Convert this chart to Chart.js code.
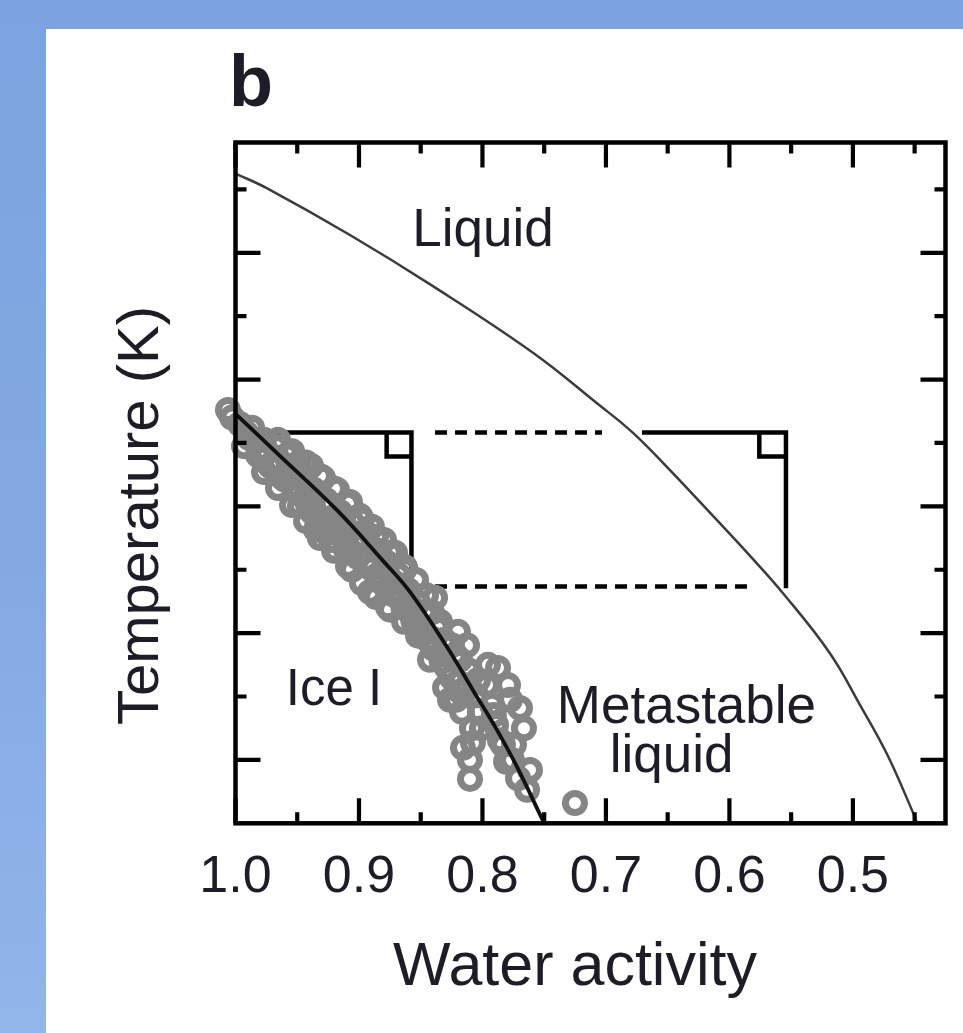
<!DOCTYPE html>
<html>
<head>
<meta charset="utf-8">
<script src="https://cdn.jsdelivr.net/npm/chart.js@4.4.0/dist/chart.umd.min.js"></script>
<style>
  html, body { margin: 0; padding: 0; width: 963px; height: 1033px; overflow: hidden; }
  body { position: relative; background: linear-gradient(to bottom, #7ca3df 0%, #84a9e2 55%, #92b5ea 100%); }
  #panel { position: absolute; left: 46px; top: 29px; right: 0; bottom: 0; background: #fff; }
  #chart { position: absolute; left: 0; top: 0; }
</style>
</head>
<body>
<div id="panel"></div>
<canvas id="chart" width="963" height="1033"></canvas>
<script>
// axis ticks
const xTicks = [1.0, 0.9, 0.8, 0.7, 0.6, 0.5];
const xMinorTicks = [0.95, 0.85, 0.75, 0.65, 0.55, 0.45];
const yMajorTicks = [180, 200, 220, 240, 260];
const yMinorTicks = [190, 210, 230, 250, 270];

// ice melting curve (upper thin line)
const meltAw = [1.0, 0.9747, 0.9073, 0.8398, 0.7588, 0.7075, 0.6781, 0.6505, 0.6133, 0.5833, 0.5566, 0.5185, 0.4943, 0.4726, 0.4511, 0.4481];
const meltT = [272.5, 270.2, 262.8, 254.7, 244.2, 236.3, 231.6, 226.2, 218.5, 212.2, 206.3, 196.8, 188.7, 181.0, 171.6, 170.05];

// homogeneous freezing curve (thick black line)
const freezeAw = [1.0, 0.9664, 0.9178, 0.8805, 0.8587, 0.8287, 0.8077, 0.7882, 0.7720, 0.7510];
const freezeT = [234.6, 228.4, 219.4, 211.4, 206.5, 197.8, 191.0, 184.7, 178.9, 170.4];

// measured freezing points (grey circles)
const dropAw = [1.0061, 1.0028, 0.9964, 0.9915, 0.9931, 0.9866, 0.9842, 0.9818, 0.9769, 0.9745,
  0.9721, 0.9672, 0.9648, 0.9623, 0.9583, 0.9551, 0.9526, 0.9486, 0.9461, 0.9437,
  0.9478, 0.9389, 0.9364, 0.9380, 0.9332, 0.9348, 0.9291, 0.9267, 0.9251, 0.9227,
  0.9178, 0.9154, 0.9129, 0.9194, 0.9105, 0.9073, 0.9057, 0.9024, 0.9057, 0.8992,
  0.8959, 0.8935, 0.8895, 0.8862, 0.8911, 0.8846, 0.8797, 0.8773, 0.8749, 0.8765,
  0.8708, 0.8684, 0.8660, 0.8627, 0.8603, 0.8587, 0.8538, 0.8522, 0.8506, 0.8465,
  0.8441, 0.8425, 0.8457, 0.8384, 0.8368, 0.8344, 0.8311, 0.8287, 0.8303, 0.8263,
  0.8198, 0.8222, 0.8198, 0.8166, 0.8125, 0.8117, 0.8085, 0.8077, 0.8101, 0.8101,
  0.8052, 0.8020, 0.7955, 0.7963, 0.7874, 0.7923, 0.7890, 0.7793, 0.7834, 0.7777,
  0.7696, 0.7664, 0.7761, 0.7615, 0.7712, 0.7639, 0.7251,
  0.9890, 0.9800, 0.9700, 0.9600, 0.9500, 0.9410, 0.9310, 0.9210, 0.9110, 0.9010,
  0.8900, 0.8810, 0.8720, 0.8640, 0.8560, 0.8480, 0.8400, 0.8330, 0.8250, 0.8180,
  0.9656, 0.9542, 0.9429, 0.9316, 0.9202, 0.9089, 0.8976, 0.8862, 0.8749, 0.8635,
  0.9769, 0.9656, 0.9542, 0.9429, 0.9316, 0.9202, 0.9089, 0.8976, 0.8862, 0.8749, 0.8635, 0.8522,
  0.9599, 0.9486, 0.9372, 0.9259, 0.9146, 0.9032, 0.8919, 0.8805, 0.8692,
  0.8409, 0.8344, 0.8247, 0.8182, 0.8214, 0.8133, 0.8036, 0.8004, 0.7907, 0.7858, 0.7809, 0.7745, 0.8158];
const dropT = [235.2, 234.0, 233.0, 231.6, 229.5, 232.4, 230.2, 228.1, 230.5, 228.6,
  226.4, 229.4, 227.2, 224.6, 228.1, 225.8, 222.9, 226.9, 224.2, 221.3,
  220.1, 226.4, 222.6, 219.1, 217.1, 216.3, 224.5, 221.0, 217.9, 214.7,
  222.6, 219.1, 215.5, 213.1, 213.1, 220.7, 217.5, 213.9, 210.0, 218.5,
  215.0, 211.5, 216.8, 213.1, 206.5, 209.2, 214.7, 211.1, 207.6, 204.1,
  212.7, 209.2, 205.2, 210.4, 206.8, 203.3, 208.4, 204.8, 200.8, 202.9,
  198.9, 195.8, 206.0, 205.6, 200.8, 196.6, 198.9, 194.5, 191.4, 189.5,
  200.2, 196.6, 192.3, 187.6, 198.1, 194.2, 185.0, 182.7, 180.0, 177.0,
  190.2, 187.6, 195.0, 191.8, 194.5, 188.7, 185.5, 191.8, 182.4, 189.5,
  188.2, 185.0, 180.0, 178.4, 177.1, 175.3, 173.2,
  230.8, 228.9, 226.8, 224.9, 222.4, 220.0, 218.2, 216.0, 214.4, 212.0,
  210.2, 207.9, 206.1, 204.0, 201.9, 199.8, 197.6, 195.5, 193.0, 190.8,
  230.5, 228.7, 226.9, 224.8, 222.8, 220.4, 217.9, 215.2, 212.7, 210.0,
  225.4, 222.9, 220.2, 217.7, 215.0, 213.0, 210.6, 207.9, 205.7, 203.7, 201.8, 199.6,
  224.2, 222.0, 220.1, 217.9, 216.6, 214.1, 211.5, 208.4, 205.9,
  203.3, 201.8, 198.1, 195.8, 189.5, 191.0, 192.6, 185.0, 187.1, 183.1, 179.7, 182.4, 181.9];

// construction lines (the two right-angle brackets and the dashed shift)
const bracketLeftAw = [1.0, 0.8575, 0.8575];
const bracketLeftT = [231.67, 231.67, 207.1];
const bracketRightAw = [0.6708, 0.5542, 0.5542];
const bracketRightT = [231.67, 231.67, 207.1];
const cornerLeftAw = [0.8776, 0.8776, 0.8575];
const cornerLeftT = [231.67, 227.88, 227.88];
const cornerRightAw = [0.5758, 0.5758, 0.5542];
const cornerRightT = [231.67, 227.88, 227.88];
const dashTopAw = [0.8384, 0.7032];
const dashTopT = [231.67, 231.67];
const dashBottomAw = [0.8384, 0.5858];
const dashBottomT = [207.34, 207.34];

// labels
const noteText = ['Liquid', 'Ice I', 'Metastable', 'liquid'];
const noteAw = [0.7996, 0.9202, 0.6348, 0.6469];
const noteT = [261.1, 188.67, 185.83, 178.14];
const noteSize = [53, 51, 53, 53];
const xTitle = 'Water activity';
const yTitle = 'Temperature (K)';
const panelLetter = 'b';

const fontFamily = "'Liberation Sans', Arial, Helvetica, sans-serif";
const textColor = '#1d1d27';

const toPts = (xs, ys) => xs.map((x, i) => ({ x: x, y: ys[i] }));

function guide(xs, ys, dash) {
  return {
    data: toPts(xs, ys),
    showLine: true,
    borderColor: '#000',
    borderWidth: 4.5,
    borderDash: dash || [],
    borderCapStyle: 'butt',
    borderJoinStyle: 'miter',
    pointRadius: 0,
    tension: 0
  };
}

const framePlugin = {
  id: 'frame',
  afterDatasetsDraw(chart) {
    const { ctx, chartArea: a, scales: { x, y } } = chart;
    ctx.save();
    ctx.strokeStyle = '#000';
    ctx.lineWidth = 4.5;
    ctx.strokeRect(a.left, a.top, a.right - a.left, a.bottom - a.top);
    ctx.lineWidth = 4.2;
    ctx.beginPath();
    const seg = (x1, y1, x2, y2) => { ctx.moveTo(x1, y1); ctx.lineTo(x2, y2); };
    xTicks.forEach(v => {
      const p = x.getPixelForValue(v);
      seg(p, a.bottom, p, a.bottom - 25);
      seg(p, a.top, p, a.top + 25);
    });
    xMinorTicks.forEach(v => {
      const p = x.getPixelForValue(v);
      seg(p, a.bottom, p, a.bottom - 11);
      seg(p, a.top, p, a.top + 11);
    });
    yMajorTicks.forEach(v => {
      const p = y.getPixelForValue(v);
      seg(a.left, p, a.left + 25, p);
      seg(a.right, p, a.right - 25, p);
    });
    yMinorTicks.forEach(v => {
      const p = y.getPixelForValue(v);
      seg(a.left, p, a.left + 11, p);
      seg(a.right, p, a.right - 11, p);
    });
    ctx.stroke();
    ctx.restore();
  }
};

const textPlugin = {
  id: 'texts',
  afterDraw(chart) {
    const { ctx, scales: { x, y } } = chart;
    ctx.save();
    ctx.fillStyle = textColor;
    ctx.textBaseline = 'alphabetic';

    ctx.font = 'bold 72px ' + fontFamily;
    ctx.textAlign = 'left';
    ctx.fillText(panelLetter, 229, 106);

    ctx.textAlign = 'center';
    noteText.forEach((t, i) => {
      ctx.font = noteSize[i] + 'px ' + fontFamily;
      ctx.fillText(t, x.getPixelForValue(noteAw[i]), y.getPixelForValue(noteT[i]));
    });

    ctx.font = '61px ' + fontFamily;
    ctx.fillText(xTitle, 575, 985);

    ctx.translate(158, 515.5);
    ctx.rotate(-Math.PI / 2);
    ctx.font = '58px ' + fontFamily;
    ctx.fillText(yTitle, 0, 0);
    ctx.restore();
  }
};

new Chart(document.getElementById('chart'), {
  type: 'scatter',
  data: {
    datasets: [
      {
        data: toPts(freezeAw, freezeT),
        showLine: true,
        borderColor: '#111',
        borderWidth: 3.8,
        pointRadius: 0,
        tension: 0.4
      },
      {
        data: toPts(meltAw, meltT),
        showLine: true,
        borderColor: '#3c3c3c',
        borderWidth: 2.5,
        pointRadius: 0,
        tension: 0.4
      },
      {
        data: toPts(dropAw, dropT),
        showLine: false,
        pointRadius: 9.5,
        borderWidth: 7,
        borderColor: '#858585',
        backgroundColor: 'rgba(0,0,0,0)',
        clip: false
      },
      guide(bracketLeftAw, bracketLeftT),
      guide(bracketRightAw, bracketRightT),
      guide(cornerLeftAw, cornerLeftT),
      guide(cornerRightAw, cornerRightT),
      guide(dashTopAw, dashTopT, [12, 8]),
      guide(dashBottomAw, dashBottomT, [12, 8])
    ]
  },
  options: {
    responsive: false,
    animation: false,
    devicePixelRatio: 1,
    layout: { padding: { left: 135.5, right: 17.5, top: 142.5, bottom: 0 } },
    plugins: { legend: { display: false }, tooltip: { enabled: false } },
    scales: {
      x: {
        type: 'linear',
        position: 'bottom',
        reverse: true,
        min: 0.425,
        max: 1.0,
        grid: { display: false },
        border: { display: false },
        ticks: {
          font: { family: fontFamily, size: 52, lineHeight: 1 },
          color: textColor,
          padding: 20,
          maxRotation: 0,
          autoSkip: false,
          callback: v => Number(v).toFixed(1)
        },
        afterBuildTicks: s => { s.ticks = xTicks.map(v => ({ value: v })); },
        afterFit: s => { s.height = 1033 - 823.3; }
      },
      y: {
        type: 'linear',
        min: 170,
        max: 277.4,
        grid: { display: false },
        border: { display: false },
        ticks: { display: false },
        afterFit: s => { s.width = 100; }
      }
    }
  },
  plugins: [framePlugin, textPlugin]
});
</script>
</body>
</html>
